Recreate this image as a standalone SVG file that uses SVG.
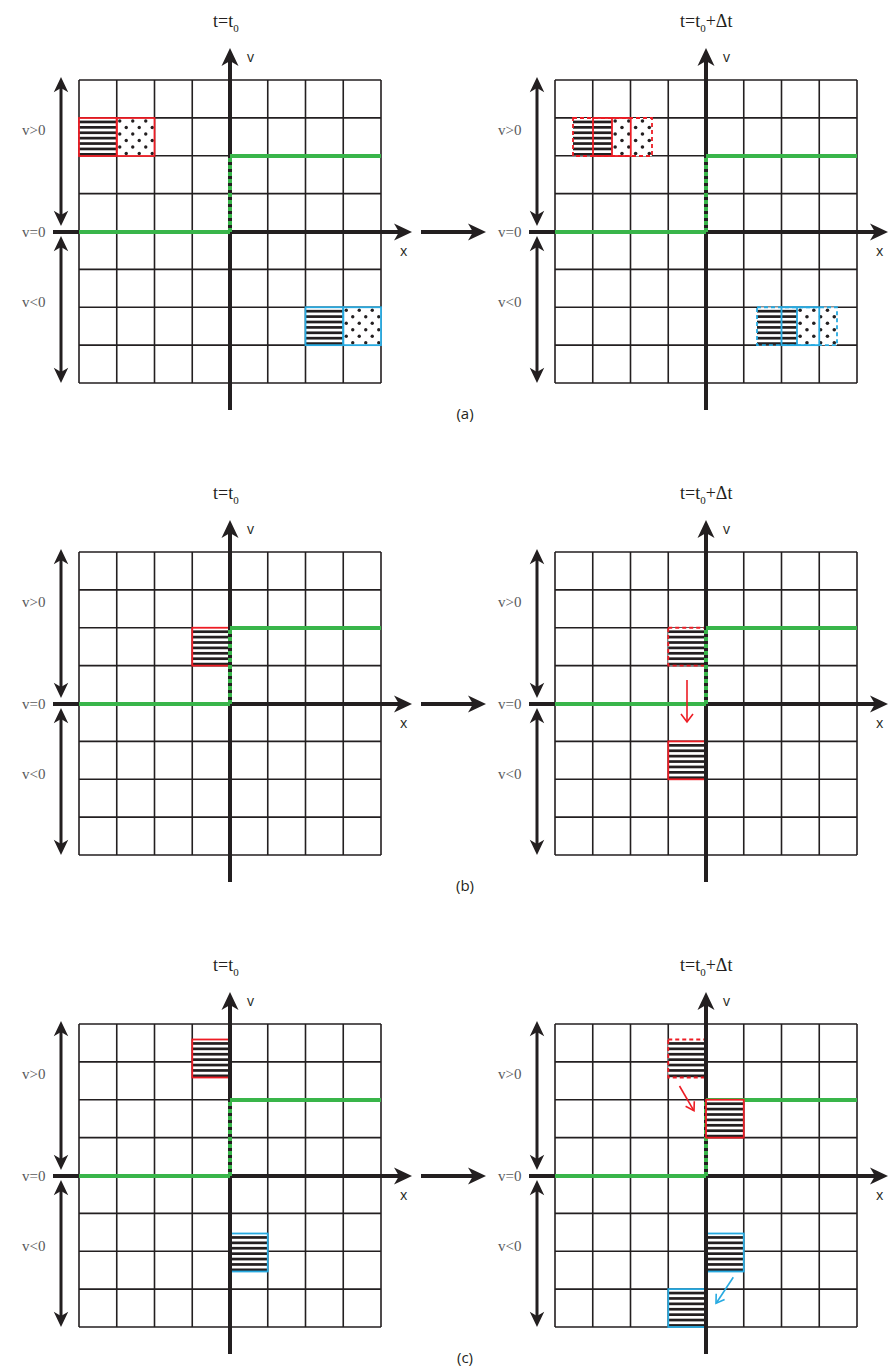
<svg xmlns="http://www.w3.org/2000/svg" xmlns:xlink="http://www.w3.org/1999/xlink" width="888" height="1370" viewBox="0 0 888 1370">
<style>
.grid{fill:none;stroke:#231f20;stroke-width:1.6}
.axis{stroke:#231f20;stroke-width:4;fill:none}
.arr{stroke:#231f20;stroke-width:3;fill:none}
.ah{fill:#231f20}
.grn{stroke:#39b54a;stroke-width:4;fill:none}
.grnd{stroke:#39b54a;stroke-width:4;fill:none;stroke-dasharray:4 3}
.serif{font-family:"Liberation Serif",serif;fill:#58595b;font-size:15px}
.ttl{font-family:"Liberation Serif",serif;fill:#231f20;font-size:18px}
.sans{font-family:"Open Sans","Liberation Sans",sans-serif;fill:#231f20;font-size:14px}
.lbl{font-family:"Open Sans","Liberation Sans",sans-serif;fill:#231f20;font-size:15px}
.rs{fill:none;stroke:#ed1c24;stroke-width:1.8}
.rd{fill:none;stroke:#ed1c24;stroke-width:1.8;stroke-dasharray:4 3}
.bs{fill:none;stroke:#27aae1;stroke-width:1.8}
.bd{fill:none;stroke:#27aae1;stroke-width:1.8;stroke-dasharray:4 3}
.ra{stroke:#ed1c24;stroke-width:1.6;fill:none}
.ba{stroke:#27aae1;stroke-width:1.6;fill:none}
.wb{fill:#fff}
</style>
<defs>
<path id="ah" d="M0,0 L-18,-8.5 L-13,0 L-18,8.5 Z"/>
<g id="st">
<rect class="wb" x="0" y="0" width="38" height="38"/>
<g fill="#231f20">
<rect x="0" y="2.6" width="38" height="2.7"/>
<rect x="0" y="8" width="38" height="2.7"/>
<rect x="0" y="13.4" width="38" height="2.7"/>
<rect x="0" y="18.8" width="38" height="2.7"/>
<rect x="0" y="24.2" width="38" height="2.7"/>
<rect x="0" y="29.6" width="38" height="2.7"/>
<rect x="0" y="35" width="38" height="2.7"/>
</g>
</g>
<g id="dt">
<rect class="wb" x="0" y="0" width="38" height="38"/>
<g fill="#231f20">
<circle cx="3" cy="3" r="1.7"/><circle cx="16" cy="3" r="1.7"/><circle cx="29" cy="3" r="1.7"/>
<circle cx="9.5" cy="9.5" r="1.7"/><circle cx="22.5" cy="9.5" r="1.7"/><circle cx="35.5" cy="9.5" r="1.7"/>
<circle cx="3" cy="16" r="1.7"/><circle cx="16" cy="16" r="1.7"/><circle cx="29" cy="16" r="1.7"/>
<circle cx="9.5" cy="22.5" r="1.7"/><circle cx="22.5" cy="22.5" r="1.7"/><circle cx="35.5" cy="22.5" r="1.7"/>
<circle cx="3" cy="29" r="1.7"/><circle cx="16" cy="29" r="1.7"/><circle cx="29" cy="29" r="1.7"/>
<circle cx="9.5" cy="35.5" r="1.7"/><circle cx="22.5" cy="35.5" r="1.7"/><circle cx="35.5" cy="35.5" r="1.7"/>
</g>
</g>
<g id="gridA">
<path class="grid" d="M79,80 V383 M116.75,80 V383 M154.5,80 V383 M192.25,80 V383 M230,80 V383 M267.75,80 V383 M305.5,80 V383 M343.25,80 V383 M381,80 V383 M79,80 H381 M79,117.9 H381 M79,155.75 H381 M79,193.6 H381 M79,231.5 H381 M79,269.4 H381 M79,307.25 H381 M79,345.1 H381 M79,383 H381"/>
</g>
<g id="axesA">
<path class="axis" d="M53,232 H400 M230,410 V60"/>
<use xlink:href="#ah" class="ah" transform="translate(412,232)"/>
<use xlink:href="#ah" class="ah" transform="translate(230,48) rotate(-90)"/>
<path class="grn" d="M79,232 H230 M230,156 H381"/>
<path class="grnd" d="M230,158 V232"/>
<path class="arr" d="M61,86 V216 M61,246 V373"/>
<use xlink:href="#ah" class="ah" transform="translate(61,77) rotate(-90) scale(0.85)"/>
<use xlink:href="#ah" class="ah" transform="translate(61,226) rotate(90) scale(0.85)"/>
<use xlink:href="#ah" class="ah" transform="translate(61,236) rotate(-90) scale(0.85)"/>
<use xlink:href="#ah" class="ah" transform="translate(61,383) rotate(90) scale(0.85)"/>
<text class="serif" x="22" y="135">v&gt;0</text>
<text class="serif" x="22" y="237">v=0</text>
<text class="serif" x="22" y="307">v&lt;0</text>
<text class="sans" x="247" y="62">v</text>
<text class="sans" x="400" y="256">x</text>
</g>
</defs>

<!-- Panel (a) -->
<g id="panel-a">
<g id="a-left">
<use xlink:href="#gridA"/>
<g id="a-left-red">
<use xlink:href="#st" transform="translate(79,118)"/>
<use xlink:href="#dt" transform="translate(116.75,118)"/>
<rect class="rs" x="79" y="118" width="37.75" height="38"/>
<rect class="rs" x="116.75" y="118" width="37.75" height="38"/>
</g>
<g id="a-left-blue">
<use xlink:href="#st" transform="translate(305.5,307.25)"/>
<use xlink:href="#dt" transform="translate(343.25,307.25)"/>
<rect class="bs" x="305.5" y="307.25" width="37.75" height="37.9"/>
<rect class="bs" x="343.25" y="307.25" width="37.75" height="37.9"/>
</g>
<use xlink:href="#axesA"/>
<text class="ttl" x="213" y="27">t=t<tspan font-size="11" dy="5">0</tspan></text>
</g>
<g id="a-arrow">
<path class="axis" d="M421,232 H474"/>
<use xlink:href="#ah" class="ah" transform="translate(486,232)"/>
</g>
<g id="a-right" transform="translate(476,0)">
<use xlink:href="#gridA"/>
<g id="a-right-red">
<use xlink:href="#st" transform="translate(97,118) scale(1.03,1)"/>
<use xlink:href="#dt" transform="translate(136,118) scale(1.05,1)"/>
<rect class="rd" x="97" y="118" width="79" height="38"/>
<rect class="rs" x="117" y="118" width="37.75" height="38"/>
<path class="rs" d="M136,118 V156"/>
</g>
<g id="a-right-blue">
<use xlink:href="#st" transform="translate(281,307.25) scale(1.05,1)"/>
<use xlink:href="#dt" transform="translate(321,307.25) scale(1.05,1)"/>
<rect class="bd" x="281" y="307.25" width="80" height="37.9"/>
<rect class="bs" x="305.5" y="307.25" width="37.75" height="37.9"/>
<path class="bs" d="M321,307.25 V345.1"/>
</g>
<use xlink:href="#axesA"/>
<text class="ttl" x="204" y="27">t=t<tspan font-size="11" dy="5">0</tspan><tspan dy="-5">+Δt</tspan></text>
</g>
<text class="lbl" x="465" y="419" text-anchor="middle">(a)</text>
</g>

<!-- Panel (b) -->
<g id="panel-b" transform="translate(0,472)">
<g id="b-left">
<use xlink:href="#gridA"/>
<g id="b-left-red">
<use xlink:href="#st" transform="translate(192.25,155.75) scale(0.99,1)"/>
<rect class="rs" x="192.25" y="155.75" width="37.75" height="37.9"/>
</g>
<use xlink:href="#axesA"/>
<text class="ttl" x="213" y="27">t=t<tspan font-size="11" dy="5">0</tspan></text>
</g>
<g id="b-arrow">
<path class="axis" d="M421,232 H474"/>
<use xlink:href="#ah" class="ah" transform="translate(486,232)"/>
</g>
<g id="b-right" transform="translate(476,0)">
<use xlink:href="#gridA"/>
<g id="b-right-red-old">
<use xlink:href="#st" transform="translate(192.25,155.75) scale(0.99,1)"/>
<rect class="rd" x="192.25" y="155.75" width="37.75" height="37.9"/>
</g>
<g id="b-right-red-new">
<use xlink:href="#st" transform="translate(192.25,269.4) scale(0.99,1)"/>
<rect class="rs" x="192.25" y="269.4" width="37.75" height="37.9"/>
</g>
<use xlink:href="#axesA"/>
<g id="b-move">
<path class="ra" d="M211,208 V249"/>
<path class="ra" d="M205,242 L211,250 L217,242"/>
</g>
<text class="ttl" x="204" y="27">t=t<tspan font-size="11" dy="5">0</tspan><tspan dy="-5">+Δt</tspan></text>
</g>
<text class="lbl" x="465" y="419" text-anchor="middle">(b)</text>
</g>

<!-- Panel (c) -->
<g id="panel-c" transform="translate(0,944)">
<g id="c-left">
<use xlink:href="#gridA"/>
<g id="c-left-red">
<use xlink:href="#st" transform="translate(192.25,95.5) scale(0.99,1)"/>
<rect class="rs" x="192.25" y="95.5" width="37.75" height="38"/>
</g>
<g id="c-left-blue">
<use xlink:href="#st" transform="translate(230,289.5) scale(0.99,1)"/>
<rect class="bs" x="230" y="289.5" width="37.75" height="38"/>
</g>
<use xlink:href="#axesA"/>
<text class="ttl" x="213" y="27">t=t<tspan font-size="11" dy="5">0</tspan></text>
</g>
<g id="c-arrow">
<path class="axis" d="M421,232 H474"/>
<use xlink:href="#ah" class="ah" transform="translate(486,232)"/>
</g>
<g id="c-right" transform="translate(476,0)">
<use xlink:href="#gridA"/>
<g id="c-right-red-old">
<use xlink:href="#st" transform="translate(192.25,95.5) scale(0.99,1)"/>
<rect class="rd" x="192.25" y="95.5" width="37.75" height="38"/>
</g>
<g id="c-right-blue-old">
<use xlink:href="#st" transform="translate(230,289.5) scale(0.99,1)"/>
<rect class="bs" x="230" y="289.5" width="37.75" height="38"/>
</g>
<g id="c-right-blue-new">
<use xlink:href="#st" transform="translate(192.25,345.1) scale(0.99,1)"/>
<rect class="bs" x="192.25" y="345.1" width="37.75" height="37.9"/>
</g>
<use xlink:href="#axesA"/>
<g id="c-right-red-new">
<use xlink:href="#st" transform="translate(230,155.75) scale(0.99,1)"/>
<rect class="rs" x="230" y="155.75" width="37.75" height="37.9"/>
</g>
<g id="c-moves">
<path class="ra" d="M203.5,142 L217.5,166.2"/>
<path class="ra" d="M209.6,162.3 L218,166.7 L218.3,157.3"/>
<path class="ba" d="M257.3,333.3 L240.5,358.8"/>
<path class="ba" d="M240.2,349.8 L240,359.3 L248.6,355.4"/>
</g>
<text class="ttl" x="204" y="27">t=t<tspan font-size="11" dy="5">0</tspan><tspan dy="-5">+Δt</tspan></text>
</g>
<text class="lbl" x="465" y="419" text-anchor="middle">(c)</text>
</g>
</svg>
